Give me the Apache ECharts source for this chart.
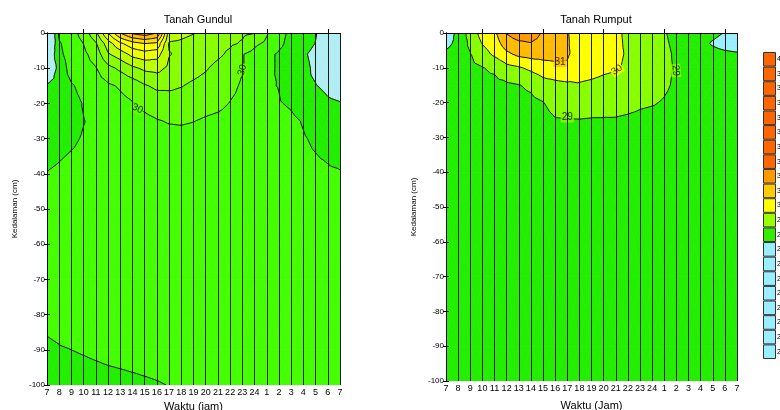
<!DOCTYPE html>
<html><head><meta charset="utf-8">
<script src="https://cdn.jsdelivr.net/npm/echarts@6/dist/echarts.min.js"></script>
<style>html,body{margin:0;padding:0;background:#fff}#c{width:780px;height:410px}</style>
</head><body><div id="c"></div>
<script>
const hourLabels = ['7','8','9','10','11','12','13','14','15','16','17','18','19','20','21','22','23','24','1','2','3','4','5','6','7'];
const depths = [0, 3, 6, 10, 15, 20, 25, 30, 40, 50, 70, 90, 100];

// Tanah Gundul: one row per depth, one value per hour
const gundulTemps = [
  [25.7, 29.25, 29.6, 30.4, 31.8, 34.0, 36.0, 37.2, 37.6, 37.0, 32.6, 32.3, 32.05, 31.8, 31.5, 31.3, 31.15, 31.02, 30.1, 29.3, 28.8, 28.4, 28.05, 27.5, 27.2],
  [26.2, 28.9, 29.5, 30.02, 30.9, 32.5, 33.8, 34.6, 35.0, 34.8, 31.9, 31.8, 31.6, 31.45, 31.3, 31.15, 30.9, 30.2, 29.8, 29.2, 28.7, 28.3, 27.98, 27.5, 27.3],
  [26.8, 28.8, 29.4, 29.8, 30.4, 31.9, 32.5, 33.3, 33.6, 33.4, 32.05, 31.8, 31.7, 31.5, 31.2, 30.8, 30.05, 29.7, 29.2, 28.9, 28.6, 28.1, 27.8, 27.5, 27.4],
  [27.0, 28.3, 29.45, 29.7, 29.95, 30.7, 31.2, 31.8, 32.2, 32.3, 31.8, 31.6, 31.4, 31.1, 30.7, 30.4, 30.05, 29.6, 29.2, 28.9, 28.5, 28.2, 27.85, 27.4, 27.3],
  [28.05, 28.4, 28.9, 29.3, 29.6, 29.85, 30.1, 30.4, 30.9, 31.2, 31.2, 31.05, 30.8, 30.6, 30.4, 30.2, 29.9, 29.5, 29.1, 28.97, 28.6, 28.1, 28.03, 27.85, 27.7],
  [28.3, 28.5, 28.7, 29.05, 29.3, 29.55, 29.75, 29.95, 30.2, 30.4, 30.5, 30.5, 30.4, 30.3, 30.2, 29.97, 29.8, 29.6, 29.35, 29.05, 28.9, 28.6, 28.3, 28.1, 28.03],
  [28.5, 28.6, 28.8, 28.98, 29.15, 29.35, 29.5, 29.65, 29.8, 29.95, 30.05, 30.08, 30.02, 29.9, 29.8, 29.7, 29.6, 29.5, 29.4, 29.3, 29.15, 28.95, 28.7, 28.5, 28.3],
  [28.7, 28.8, 28.9, 29.05, 29.15, 29.3, 29.4, 29.5, 29.6, 29.7, 29.75, 29.75, 29.7, 29.65, 29.6, 29.55, 29.5, 29.45, 29.35, 29.3, 29.2, 29.05, 28.9, 28.75, 28.6],
  [29.02, 29.1, 29.2, 29.25, 29.3, 29.35, 29.4, 29.45, 29.5, 29.5, 29.5, 29.5, 29.5, 29.45, 29.45, 29.4, 29.4, 29.35, 29.3, 29.3, 29.25, 29.2, 29.15, 29.1, 29.05],
  [29.2, 29.25, 29.3, 29.3, 29.35, 29.4, 29.4, 29.45, 29.45, 29.45, 29.45, 29.45, 29.45, 29.4, 29.4, 29.4, 29.4, 29.35, 29.35, 29.3, 29.3, 29.3, 29.25, 29.25, 29.2],
  [29.2, 29.25, 29.3, 29.3, 29.3, 29.35, 29.35, 29.35, 29.35, 29.35, 29.35, 29.35, 29.35, 29.35, 29.35, 29.35, 29.3, 29.3, 29.3, 29.3, 29.3, 29.3, 29.25, 29.25, 29.25],
  [28.95, 28.98, 29.0, 29.04, 29.08, 29.12, 29.14, 29.16, 29.18, 29.2, 29.22, 29.24, 29.25, 29.25, 29.25, 29.25, 29.25, 29.25, 29.25, 29.25, 29.25, 29.25, 29.2, 29.2, 29.2],
  [28.7, 28.73, 28.76, 28.79, 28.82, 28.85, 28.88, 28.91, 28.94, 28.97, 29.01, 29.05, 29.1, 29.15, 29.18, 29.2, 29.2, 29.2, 29.2, 29.2, 29.2, 29.2, 29.2, 29.2, 29.2]
];

// Tanah Rumput
const rumputTemps = [
  [27.3, 28.3, 29.4, 30.4, 30.8, 32.05, 32.6, 32.5, 31.9, 31.6, 31.03, 30.8, 30.7, 30.5, 30.2, 29.8, 29.5, 29.2, 29.05, 28.8, 28.6, 28.4, 28.25, 27.95, 27.6],
  [27.7, 28.3, 29.2, 30.05, 30.5, 31.5, 31.8, 31.95, 31.7, 31.5, 31.05, 30.75, 30.65, 30.45, 30.2, 29.85, 29.55, 29.3, 29.1, 28.85, 28.6, 28.3, 27.9, 27.6, 27.5],
  [28.2, 28.5, 28.97, 29.6, 30.2, 30.8, 31.25, 31.4, 31.4, 31.3, 31.08, 30.7, 30.6, 30.4, 30.2, 29.9, 29.6, 29.35, 29.15, 28.9, 28.7, 28.5, 28.3, 28.2, 28.1],
  [28.4, 28.6, 28.8, 28.97, 29.15, 29.7, 29.9, 30.2, 30.5, 30.75, 30.9, 30.5, 30.4, 30.2, 30.1, 29.85, 29.6, 29.35, 29.15, 28.93, 28.75, 28.6, 28.5, 28.4, 28.4],
  [28.5, 28.6, 28.7, 28.8, 28.75, 28.85, 28.97, 29.15, 29.6, 29.7, 29.8, 29.9, 29.8, 29.7, 29.6, 29.5, 29.4, 29.25, 29.1, 28.9, 28.75, 28.6, 28.5, 28.5, 28.5],
  [28.5, 28.6, 28.65, 28.7, 28.7, 28.7, 28.75, 28.8, 28.97, 29.3, 29.35, 29.4, 29.35, 29.3, 29.25, 29.2, 29.1, 29.05, 28.95, 28.8, 28.7, 28.6, 28.5, 28.5, 28.5],
  [28.5, 28.55, 28.6, 28.65, 28.65, 28.65, 28.65, 28.7, 28.75, 28.95, 28.97, 28.98, 28.95, 28.95, 28.95, 28.9, 28.85, 28.8, 28.8, 28.7, 28.65, 28.6, 28.5, 28.5, 28.5],
  [28.5, 28.5, 28.55, 28.55, 28.6, 28.6, 28.6, 28.6, 28.65, 28.7, 28.7, 28.7, 28.7, 28.7, 28.7, 28.65, 28.65, 28.6, 28.6, 28.6, 28.55, 28.55, 28.5, 28.5, 28.5],
  [28.5, 28.5, 28.5, 28.55, 28.55, 28.55, 28.55, 28.55, 28.6, 28.6, 28.6, 28.6, 28.6, 28.6, 28.6, 28.6, 28.55, 28.55, 28.55, 28.55, 28.55, 28.5, 28.5, 28.5, 28.5],
  [28.5, 28.5, 28.5, 28.5, 28.5, 28.55, 28.55, 28.55, 28.55, 28.55, 28.55, 28.55, 28.55, 28.55, 28.55, 28.55, 28.55, 28.55, 28.5, 28.5, 28.5, 28.5, 28.5, 28.5, 28.5],
  [28.5, 28.5, 28.5, 28.5, 28.5, 28.5, 28.5, 28.5, 28.5, 28.5, 28.5, 28.5, 28.5, 28.5, 28.5, 28.5, 28.5, 28.5, 28.5, 28.5, 28.5, 28.5, 28.5, 28.5, 28.5],
  [28.5, 28.5, 28.5, 28.5, 28.5, 28.5, 28.5, 28.5, 28.5, 28.5, 28.5, 28.5, 28.5, 28.5, 28.5, 28.5, 28.5, 28.5, 28.5, 28.5, 28.5, 28.5, 28.5, 28.5, 28.5],
  [28.5, 28.5, 28.5, 28.5, 28.5, 28.5, 28.5, 28.5, 28.5, 28.5, 28.5, 28.5, 28.5, 28.5, 28.5, 28.5, 28.5, 28.5, 28.5, 28.5, 28.5, 28.5, 28.5, 28.5, 28.5]
];

const gundulLevels = [28, 29, 30, 31, 32, 33, 34, 35, 36, 37];
const gundulColors = ['#b0eef4', '#22ee00', '#44ff00', '#66ff00', '#88ff00', '#bbff00', '#eeff00', '#ffff00', '#ffdd00', '#ffbb00', '#ff9900'];
const rumputLevels = [28, 29, 30, 31, 32, 33];
const rumputColors = ['#99eeff', '#22ee00', '#88ff00', '#ffff00', '#ffbb00', '#ff9900', '#ff6600'];

// contour labels: [hour index, depth, text, angle]
const gundulLabels = [[7.4, 21.5, '30', -25], [16.0, 10.5, '30', 75]];
const rumputLabels = [[9.4, 8.4, '31', 0], [14.1, 10.6, '30', 35], [18.95, 10.8, '29', -85], [10.0, 24.3, '29', 0]];

// color scale (bottom to top)
const scaleLabels = ['20','21','22','23','24','25','26','27','28','29','30','31','32','33','34','35','36','37','38','39','40'];
const scaleColors = ['#99eeff','#99eeff','#99eeff','#99eeff','#99eeff','#99eeff','#99eeff','#99eeff','#33ee00','#99ff00','#ffff00','#ffcc00','#ff9900','#ff6600','#ff6600','#ff6600','#ff6600','#ff6600','#ff6600','#ff6600','#ff6600'];

const FONT = 'Liberation Sans, Arial, sans-serif';

function cellsFor(temps) {
  const cells = [];
  for (let r = 0; r < depths.length - 1; r++)
    for (let c = 0; c < hourLabels.length - 1; c++) cells.push([c, -depths[r], r]);
  return cells;
}
function cellTris(api, temps) {
  const c = api.value(0), r = api.value(2);
  const corners = [[c, r], [c + 1, r], [c + 1, r + 1], [c, r + 1]].map(function (q) {
    return { p: api.coord([q[0], -depths[q[1]]]), v: temps[q[1]][q[0]] + 1e-7 };
  });
  const cx = (corners[0].p[0] + corners[1].p[0]) / 2, cy = (corners[0].p[1] + corners[3].p[1]) / 2;
  const cv = (corners[0].v + corners[1].v + corners[2].v + corners[3].v) / 4;
  const ctr = { p: [cx, cy], v: cv };
  return [[corners[0], corners[1], ctr], [corners[1], corners[2], ctr], [corners[2], corners[3], ctr], [corners[3], corners[0], ctr]];
}
function clip(poly, level, keepAbove) {
  const out = [];
  for (let k = 0; k < poly.length; k++) {
    const a = poly[k], b = poly[(k + 1) % poly.length];
    const ia = keepAbove ? a.v >= level : a.v <= level;
    const ib = keepAbove ? b.v >= level : b.v <= level;
    if (ia !== ib) {
      const t = (level - a.v) / (b.v - a.v);
      out.push({ p: [a.p[0] + t * (b.p[0] - a.p[0]), a.p[1] + t * (b.p[1] - a.p[1])], v: level });
    }
    if (ib) out.push(b);
  }
  return out;
}
function fillRenderer(temps, levels, colors) {
  return function (params, api) {
    const tris = cellTris(api, temps);
    const children = [];
    for (let k = 0; k <= levels.length; k++) {
      const lo = k === 0 ? -Infinity : levels[k - 1];
      const hi = k === levels.length ? Infinity : levels[k];
      tris.forEach(function (t) {
        let poly = t;
        if (lo > -Infinity) poly = clip(poly, lo, true);
        if (poly.length >= 3 && hi < Infinity) poly = clip(poly, hi, false);
        if (poly.length >= 3) {
          children.push({ type: 'polygon', shape: { points: poly.map(function (q) { return q.p; }) },
            style: { fill: colors[k], stroke: colors[k], lineWidth: 0.7 } });
        }
      });
    }
    return { type: 'group', children: children };
  };
}
function lineRenderer(temps, levels) {
  return function (params, api) {
    const tris = cellTris(api, temps);
    let d = '';
    levels.forEach(function (L) {
      tris.forEach(function (t) {
        const pts = [];
        for (let e = 0; e < 3; e++) {
          const a = t[e], b = t[(e + 1) % 3];
          if ((a.v - L) * (b.v - L) < 0) {
            const s = (L - a.v) / (b.v - a.v);
            pts.push([a.p[0] + s * (b.p[0] - a.p[0]), a.p[1] + s * (b.p[1] - a.p[1])]);
          }
        }
        if (pts.length === 2) d += 'M' + pts[0][0].toFixed(2) + ' ' + pts[0][1].toFixed(2) + 'L' + pts[1][0].toFixed(2) + ' ' + pts[1][1].toFixed(2);
      });
    });
    if (!d) return null;
    return { type: 'path', shape: { pathData: d }, style: { fill: null, stroke: '#111', lineWidth: 1 } };
  };
}
function labelData(list, levels, colors) {
  return list.map(function (l) {
    const lv = parseFloat(l[2]);
    const idx = levels.indexOf(lv);
    return { value: [l[0], -l[1]], label: { show: true, formatter: l[2], rotate: l[3], backgroundColor: colors[idx + 1] } };
  });
}

const grids = [
  { left: 47, right: 440, top: 33, bottom: 25, outerBoundsMode: 'none' },
  { left: 446, right: 43, top: 33, bottom: 29, outerBoundsMode: 'none' },
  { left: 763, width: 13, top: 52, height: 307, outerBoundsMode: 'none' }
];
const xAxes = [], yAxes = [];
[0, 1].forEach(function (g) {
  xAxes.push({
    gridIndex: g, type: 'value', min: 0, max: 24, interval: 1, z: 6,
    name: g === 0 ? 'Waktu (jam)' : 'Waktu (Jam)', nameLocation: 'middle', nameGap: g === 0 ? 15 : 19,
    nameTextStyle: { fontSize: 11, color: '#000', fontFamily: FONT },
    axisLine: { show: true, lineStyle: { color: '#000', width: 1 } },
    axisTick: { show: false },
    axisLabel: { fontSize: 9, color: '#000', margin: 3, fontFamily: FONT, formatter: function (v) { return hourLabels[v]; } },
    splitLine: { show: true, lineStyle: { color: '#1a1a1a', width: 1 } }
  });
  xAxes.push({
    gridIndex: g, type: 'value', min: 0, max: 24, position: 'top', z: 6,
    axisLine: { show: true, lineStyle: { color: '#000', width: 1 } },
    axisTick: { show: true, length: 4, customValues: [3, 8, 13, 18, 23], lineStyle: { color: '#000' } },
    axisLabel: { show: false }, splitLine: { show: false }
  });
  yAxes.push({
    gridIndex: g, type: 'value', min: -100, max: 0, interval: 10, z: 6,
    name: 'Kedalaman (cm)', nameLocation: 'middle', nameGap: 28,
    nameTextStyle: { fontSize: 8, color: '#000', fontFamily: FONT },
    axisLine: { show: true, lineStyle: { color: '#000', width: 1 } },
    axisTick: { show: true, length: 3, lineStyle: { color: '#000' } },
    axisLabel: { fontSize: 8, color: '#000', margin: 2, fontFamily: FONT },
    splitLine: { show: false }
  });
  yAxes.push({
    gridIndex: g, type: 'value', min: -100, max: 0, interval: 10, position: 'right', z: 6,
    axisLine: { show: true, lineStyle: { color: '#000', width: 1 } },
    axisTick: { show: true, length: 3, lineStyle: { color: '#000' } },
    axisLabel: { show: false }, splitLine: { show: false }
  });
});
xAxes.push({ gridIndex: 2, type: 'value', min: 0, max: 1, show: false });
yAxes.push({ gridIndex: 2, type: 'category', data: scaleLabels, position: 'right',
  axisLine: { show: false }, axisTick: { show: false },
  axisLabel: { fontSize: 7, color: '#000', margin: 1, fontFamily: FONT } });

const panels = [
  { temps: gundulTemps, levels: gundulLevels, colors: gundulColors, labels: gundulLabels },
  { temps: rumputTemps, levels: rumputLevels, colors: rumputColors, labels: rumputLabels }
];
const series = [];
panels.forEach(function (p, g) {
  const cells = cellsFor(p.temps);
  series.push({ type: 'custom', xAxisIndex: g * 2, yAxisIndex: g * 2, z: 2, silent: true,
    data: cells, renderItem: fillRenderer(p.temps, p.levels, p.colors), clip: true });
  series.push({ type: 'custom', xAxisIndex: g * 2, yAxisIndex: g * 2, z: 3, silent: true,
    data: cells, renderItem: lineRenderer(p.temps, p.levels), clip: true });
  series.push({ type: 'scatter', xAxisIndex: g * 2, yAxisIndex: g * 2, z: 4, symbolSize: 0, silent: true,
    label: { position: 'inside', fontSize: 10, color: '#000', fontFamily: FONT, padding: [0, 1] },
    data: labelData(p.labels, p.levels, p.colors) });
});
series.push({ type: 'bar', xAxisIndex: 4, yAxisIndex: 4, barWidth: '100%', silent: true,
  data: scaleColors.map(function (c) { return { value: 1, itemStyle: { color: c, borderColor: '#333', borderWidth: 1 } }; }) });

const chart = echarts.init(document.getElementById('c'), null, { renderer: 'canvas' });
chart.setOption({
  animation: false,
  backgroundColor: '#fff',
  textStyle: { fontFamily: FONT },
  title: [
    { text: 'Tanah Gundul', left: 193, top: 9, textAlign: 'center', textStyle: { fontSize: 11, fontWeight: 'normal', color: '#000', fontFamily: FONT } },
    { text: 'Tanah Rumput', left: 591, top: 9, textAlign: 'center', textStyle: { fontSize: 11, fontWeight: 'normal', color: '#000', fontFamily: FONT } }
  ],
  grid: grids, xAxis: xAxes, yAxis: yAxes, series: series
});
</script></body></html>
